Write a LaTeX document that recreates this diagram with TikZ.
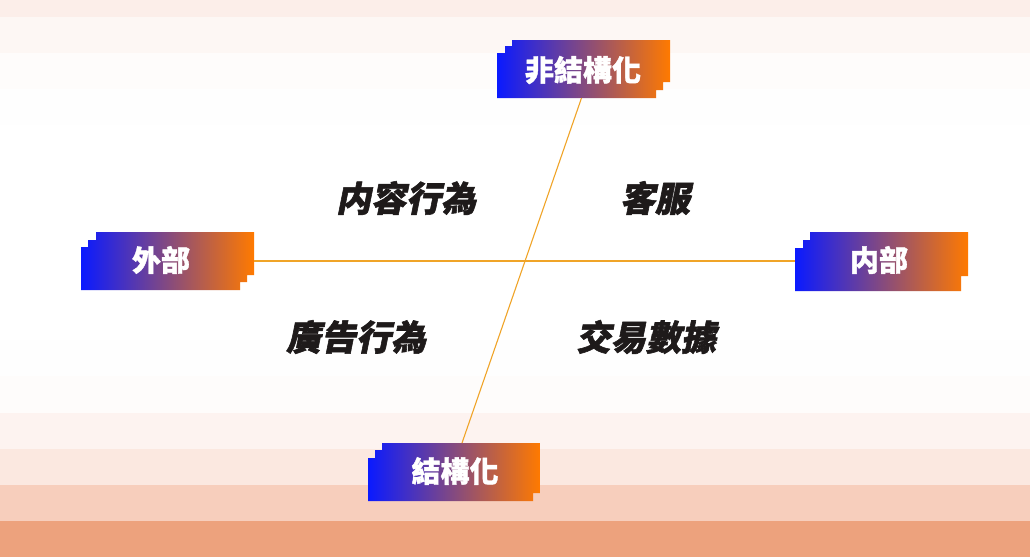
\documentclass[tikz,border=0pt]{standalone}
\usepackage{fontspec}
\newfontfamily\cjk[FakeBold=1.2]{Noto Sans CJK TC}
\newfontfamily\cjkit[FakeSlant=0.2,FakeBold=1.6]{Noto Sans CJK TC}
\definecolor{gblue}{HTML}{0A1AFF}
\definecolor{gorange}{HTML}{FF7A00}
\definecolor{axisc}{HTML}{F0A428}
\definecolor{ink}{HTML}{1E1A1A}
\definecolor{bandA}{HTML}{FCEEE9}
\definecolor{bandB}{HTML}{FDF7F4}
\definecolor{bandC}{HTML}{FEFCFB}
\definecolor{bandD}{HTML}{FEFEFE}
\definecolor{bandE}{HTML}{FDF3F0}
\definecolor{bandF}{HTML}{FBE8E0}
\definecolor{bandG}{HTML}{F7CEBC}
\definecolor{bandH}{HTML}{EDA27D}
\tikzset{
  boxframe/.style={inner sep=0pt, outer sep=0pt, draw=none},
  boxfill/.style={left color=gblue, right color=gorange},
  boxtext/.style={text=white, font=\cjk\bfseries\fontsize{29}{31}\selectfont, inner sep=0pt},
  quadtext/.style={text=ink, font=\cjkit\bfseries\fontsize{35}{37}\selectfont, inner sep=0pt},
  axisline/.style={draw=axisc, line width=1.1pt}
}
\begin{document}
\begin{tikzpicture}[x=1pt,y=-1pt]
\useasboundingbox (0,0) rectangle (1030,558);
\fill[white] (0,0) rectangle (1030,558);
% background bands
\fill[bandA] (0,0) rectangle (1030,17);
\fill[bandB] (0,17) rectangle (1030,53);
\fill[bandC] (0,53) rectangle (1030,89);
\fill[bandD] (0,89) rectangle (1030,125);
\fill[bandD] (0,340) rectangle (1030,376);
\fill[bandC] (0,376) rectangle (1030,413);
\fill[bandE] (0,413) rectangle (1030,449);
\fill[bandF] (0,449) rectangle (1030,485);
\fill[bandG] (0,485) rectangle (1030,521);
\fill[bandH] (0,521) rectangle (1030,557);
% stair boxes
\shade[boxfill] (512,40)--(670,40)--(670,82)--(663,82)--(663,90)--(656,90)--(656,98)--(497,98)--(497,53)--(505,53)--(505,46)--(512,46)--cycle;
\shade[boxfill] (96,232)--(254,232)--(254,275)--(247,275)--(247,282)--(240,282)--(240,290)--(81,290)--(81,247)--(88,247)--(88,240)--(96,240)--cycle;
\shade[boxfill] (810,232)--(968,232)--(968,276)--(961,276)--(961,291)--(795,291)--(795,248)--(803,248)--(803,240)--(810,240)--cycle;
\shade[boxfill] (382,443)--(540,443)--(540,493)--(533,493)--(533,501)--(368,501)--(368,458)--(375,458)--(375,450)--(382,450)--cycle;
% frame nodes
\node[boxframe, minimum width=173pt, minimum height=58pt] (ns) at (583.5,69) {};
\node[boxframe, minimum width=173pt, minimum height=58pt] (wb) at (167.5,261) {};
\node[boxframe, minimum width=173pt, minimum height=59pt] (nb) at (881.5,261.5) {};
\node[boxframe, minimum width=172pt, minimum height=58pt] (sb) at (454,472) {};
% connectors
\draw[axisline] (wb.east) -- (wb.east -| nb.west);
\draw[axisline] ([xshift=-2pt]ns.south) -- ([xshift=8pt]sb.north);
% box labels
\node[boxtext] (tns) at (583,70) {非結構化};
\node[boxtext] (twb) at (161,260) {外部};
\node[boxtext] (tnb) at (879,260) {内部};
\node[boxtext] (tsb) at (455,471) {結構化};
% quadrant labels
\node[quadtext] (q1) at (406,198) {内容行為};
\node[quadtext] (q2) at (655,198) {客服};
\node[quadtext] (q3) at (356,337) {廣告行為};
\node[quadtext] (q4) at (646,337) {交易數據};
\end{tikzpicture}
\end{document}
